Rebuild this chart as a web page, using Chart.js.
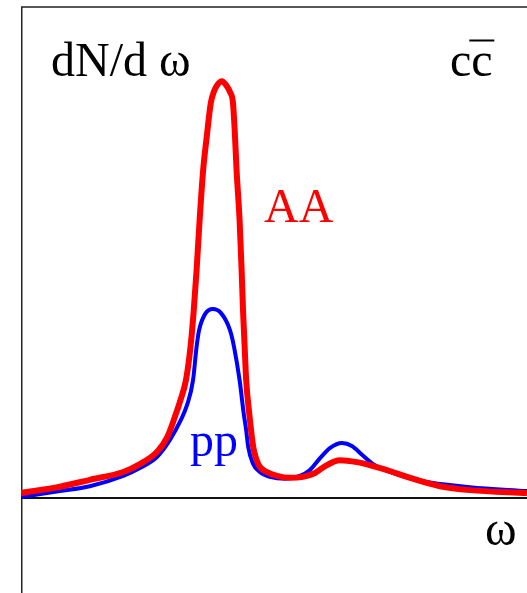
<!DOCTYPE html>
<html>
<head>
<meta charset="utf-8">
<script src="https://cdn.jsdelivr.net/npm/chart.js@4/dist/chart.umd.min.js"></script>
<style>
  html, body { margin: 0; padding: 0; background: #ffffff; }
  #wrap { width: 527px; height: 593px; }
</style>
</head>
<body>
<div id="wrap"><canvas id="c" width="527" height="593"></canvas></div>
<script>
// ω (arbitrary units, 0..10) and dN/dω (arbitrary units)
const aaOmega = [0.00, 0.77, 1.36, 2.02, 2.35, 2.69, 2.89, 3.04, 3.14, 3.26, 3.35, 3.41, 3.47, 3.53, 3.60, 3.67, 3.75, 3.81, 3.87, 3.97, 4.06, 4.13, 4.19, 4.23, 4.26, 4.32, 4.36, 4.39, 4.42, 4.45, 4.51, 4.59, 4.70, 4.86, 5.06, 5.32, 5.57, 5.81, 6.01, 6.30, 6.64, 6.96, 7.29, 7.63, 8.28, 8.87, 10.00];
const aaYield = [1.0, 2.3, 3.7, 5.3, 6.9, 9.4, 12.4, 16.5, 19.6, 24.0, 30.8, 37.7, 46.4, 56.6, 66.8, 73.5, 80.4, 82.7, 84.0, 84.9, 84.0, 82.7, 80.4, 73.5, 66.8, 56.6, 46.4, 37.7, 30.8, 24.0, 17.3, 10.4, 6.7, 5.3, 4.5, 4.1, 4.3, 5.1, 6.5, 7.7, 7.3, 6.5, 5.5, 4.3, 2.4, 1.6, 1.0];

const ppOmega = [0.00, 0.77, 1.36, 2.02, 2.35, 2.69, 2.94, 3.16, 3.28, 3.40, 3.47, 3.52, 3.64, 3.79, 3.95, 4.13, 4.21, 4.32, 4.40, 4.45, 4.49, 4.58, 4.72, 4.92, 5.22, 5.51, 5.71, 5.91, 6.11, 6.34, 6.54, 6.74, 6.96, 7.29, 7.89, 8.87, 10.00];
const ppYield = [0.2, 1.4, 2.4, 4.5, 6.1, 8.4, 11.8, 15.9, 18.9, 24.0, 30.8, 34.2, 37.5, 38.5, 37.7, 34.2, 30.8, 24.0, 17.3, 13.8, 10.4, 7.1, 5.3, 4.3, 3.9, 4.5, 5.7, 8.1, 10.2, 11.2, 10.6, 8.8, 6.9, 5.3, 3.5, 2.2, 1.4];

const seriesLabels = ["AA", "pp"];
const yAxisLabel = "dN/d ω";
const xAxisLabel = "ω";
const quarkLabel = "cc";

const toPoints = (xs, ys) => xs.map((x, i) => ({ x: x, y: ys[i] }));

const SERIF = '"Liberation Serif", "Times New Roman", serif';

const decor = {
  id: 'decor',
  beforeDatasetsDraw(chart) {
    const ctx = chart.ctx;
    const a = chart.chartArea;
    const y0 = chart.scales.y.getPixelForValue(0);
    ctx.save();
    ctx.strokeStyle = '#222';
    ctx.lineWidth = 1.5;
    ctx.beginPath();
    ctx.moveTo(a.left + 0.75, chart.height);
    ctx.lineTo(a.left + 0.75, a.top);
    ctx.lineTo(chart.width, a.top);
    ctx.stroke();
    ctx.lineWidth = 2;
    ctx.strokeStyle = '#111';
    ctx.beginPath();
    ctx.moveTo(a.left, y0);
    ctx.lineTo(chart.width, y0);
    ctx.stroke();
    ctx.restore();
  },
  afterDraw(chart) {
    const ctx = chart.ctx;
    ctx.save();
    ctx.font = '48px ' + SERIF;
    ctx.textBaseline = 'alphabetic';
    ctx.textAlign = 'left';
    ctx.fillStyle = '#000';
    ctx.fillText(yAxisLabel, 51, 76);
    ctx.fillText(quarkLabel, 450, 76);
    // overline on the anti-quark
    const w1 = ctx.measureText('c').width;
    ctx.fillRect(450 + w1 - 2, 39.5, 25, 2);
    ctx.fillText(xAxisLabel, 485, 545);
    ctx.fillStyle = '#ff0000';
    ctx.fillText(seriesLabels[0], 264, 222);
    ctx.fillStyle = '#0000ff';
    ctx.fillText(seriesLabels[1], 190, 456);
    ctx.restore();
  }
};

new Chart(document.getElementById('c'), {
  type: 'line',
  data: {
    datasets: [
      {
        label: seriesLabels[0],
        data: toPoints(aaOmega, aaYield),
        borderColor: '#ff0000',
        borderWidth: 6,
        pointRadius: 0,
        cubicInterpolationMode: 'monotone',
        fill: false,
        order: 0
      },
      {
        label: seriesLabels[1],
        data: toPoints(ppOmega, ppYield),
        borderColor: '#0000ff',
        borderWidth: 4,
        pointRadius: 0,
        cubicInterpolationMode: 'monotone',
        fill: false,
        order: 1
      }
    ]
  },
  options: {
    responsive: false,
    devicePixelRatio: 1,
    animation: false,
    layout: { padding: { left: 21, top: 7, right: 0, bottom: 0 } },
    plugins: { legend: { display: false }, tooltip: { enabled: false } },
    scales: {
      x: { type: 'linear', min: 0, max: 10, display: false },
      y: { type: 'linear', min: -19.35, max: 100, display: false }
    }
  },
  plugins: [decor]
});
</script>
</body>
</html>
